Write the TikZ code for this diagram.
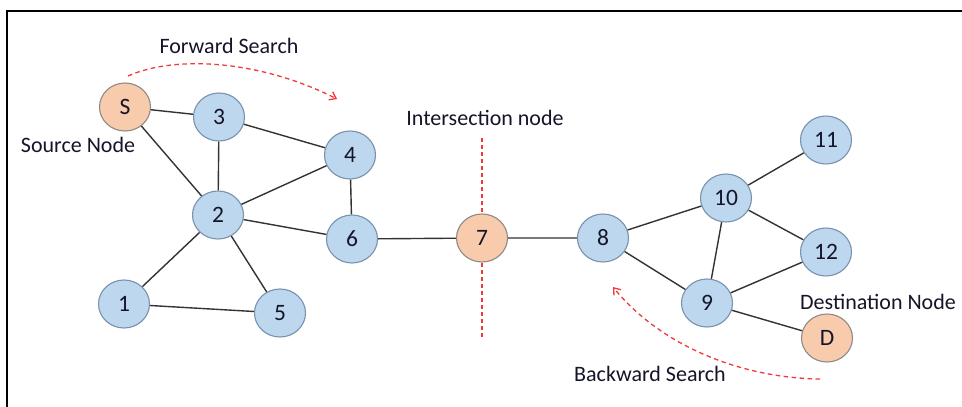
\documentclass[tikz,border=0pt]{standalone}
\usepackage{fontspec}
\setmainfont{Carlito}
\usetikzlibrary{shapes.geometric,arrows.meta}
\definecolor{nblue}{HTML}{BDD7EE}
\definecolor{nblueb}{HTML}{7A92AC}
\definecolor{norange}{HTML}{F8CBAD}
\definecolor{noranb}{HTML}{8F8A86}
\definecolor{ntext}{HTML}{15152A}
\definecolor{edgec}{HTML}{333333}
\definecolor{dashred}{HTML}{F03A3A}
\tikzset{
  gnode/.style={ellipse, minimum width=51pt, minimum height=48pt, inner sep=0pt, line width=1.1pt, text=ntext, font=\fontsize{23.5}{26}\selectfont},
  bnode/.style={gnode, draw=nblueb, fill=nblue},
  onode/.style={gnode, draw=noranb, fill=norange},
  lbl/.style={text=ntext, font=\fontsize{22}{26}\selectfont, inner sep=0pt},
  edge/.style={draw=edgec, line width=1.4pt},
  searcharrow/.style={draw=dashred, line width=1.3pt, dash pattern=on 4.5pt off 3.5pt, -{Straight Barb[length=6pt,width=9pt]}}
}
\begin{document}
\begin{tikzpicture}[x=1pt,y=-1pt]
\useasboundingbox (0,0) rectangle (962,407);
\fill[white] (0,0) rectangle (962,407);
\draw[black, line width=2pt] (7,407) -- (7,11) -- (962,11);
% nodes
\node[onode] (S) at (125,107) {S};
\node[bnode] (n3) at (219,117) {3};
\node[bnode] (n4) at (350,155) {4};
\node[bnode] (n2) at (218,215) {2};
\node[bnode] (n6) at (352,239) {6};
\node[bnode] (n1) at (124,304) {1};
\node[bnode] (n5) at (280,313) {5};
\node[onode] (n7) at (482,238) {7};
\node[bnode] (n8) at (603,238) {8};
\node[bnode] (n10) at (726,198) {10};
\node[bnode] (n11) at (826,140) {11};
\node[bnode] (n12) at (826,252) {12};
\node[bnode] (n9) at (707,303) {9};
\node[onode] (D) at (827,338) {D};
% labels
\node[lbl] (lsrc) at (78,145) {Source Node};
\node[lbl] (lfwd) at (229,46) {Forward Search};
\node[lbl] (lint) at (485,118) {Intersection node};
\node[lbl] (ldst) at (878,302) {Destination Node};
\node[lbl] (lbwd) at (650,374) {Backward Search};
% intersection line
\coordinate (it) at (482,138);
\coordinate (ib) at (482,338);
\draw[draw=dashred, line width=1.2pt, dash pattern=on 4pt off 3pt] (it) -- (n7.north);
\draw[draw=dashred, line width=1.2pt, dash pattern=on 4pt off 3pt] (n7.south) -- (ib);
% edges
\path[edge] (S) -- (n3) (S) -- (n2) (n3) -- (n2) (n3) -- (n4) (n2) -- (n4)
  (n4) -- (n6) (n2) -- (n6) (n2) -- (n1) (n2) -- (n5) (n1) -- (n5)
  (n6) -- (n7) (n7) -- (n8) (n8) -- (n10) (n8) -- (n9) (n10) -- (n11)
  (n10) -- (n12) (n10) -- (n9) (n9) -- (n12) (n9) -- (D);
% search arrows
\coordinate (fs) at (128,76);
\coordinate (fe) at (337,99);
\draw[searcharrow] (fs) .. controls (175,55) and (260,60) .. (fe);
\coordinate (bs) at (820,379);
\coordinate (be) at (613,287);
\draw[searcharrow] (bs) .. controls (740,378) and (660,345) .. (be);
\end{tikzpicture}
\end{document}
